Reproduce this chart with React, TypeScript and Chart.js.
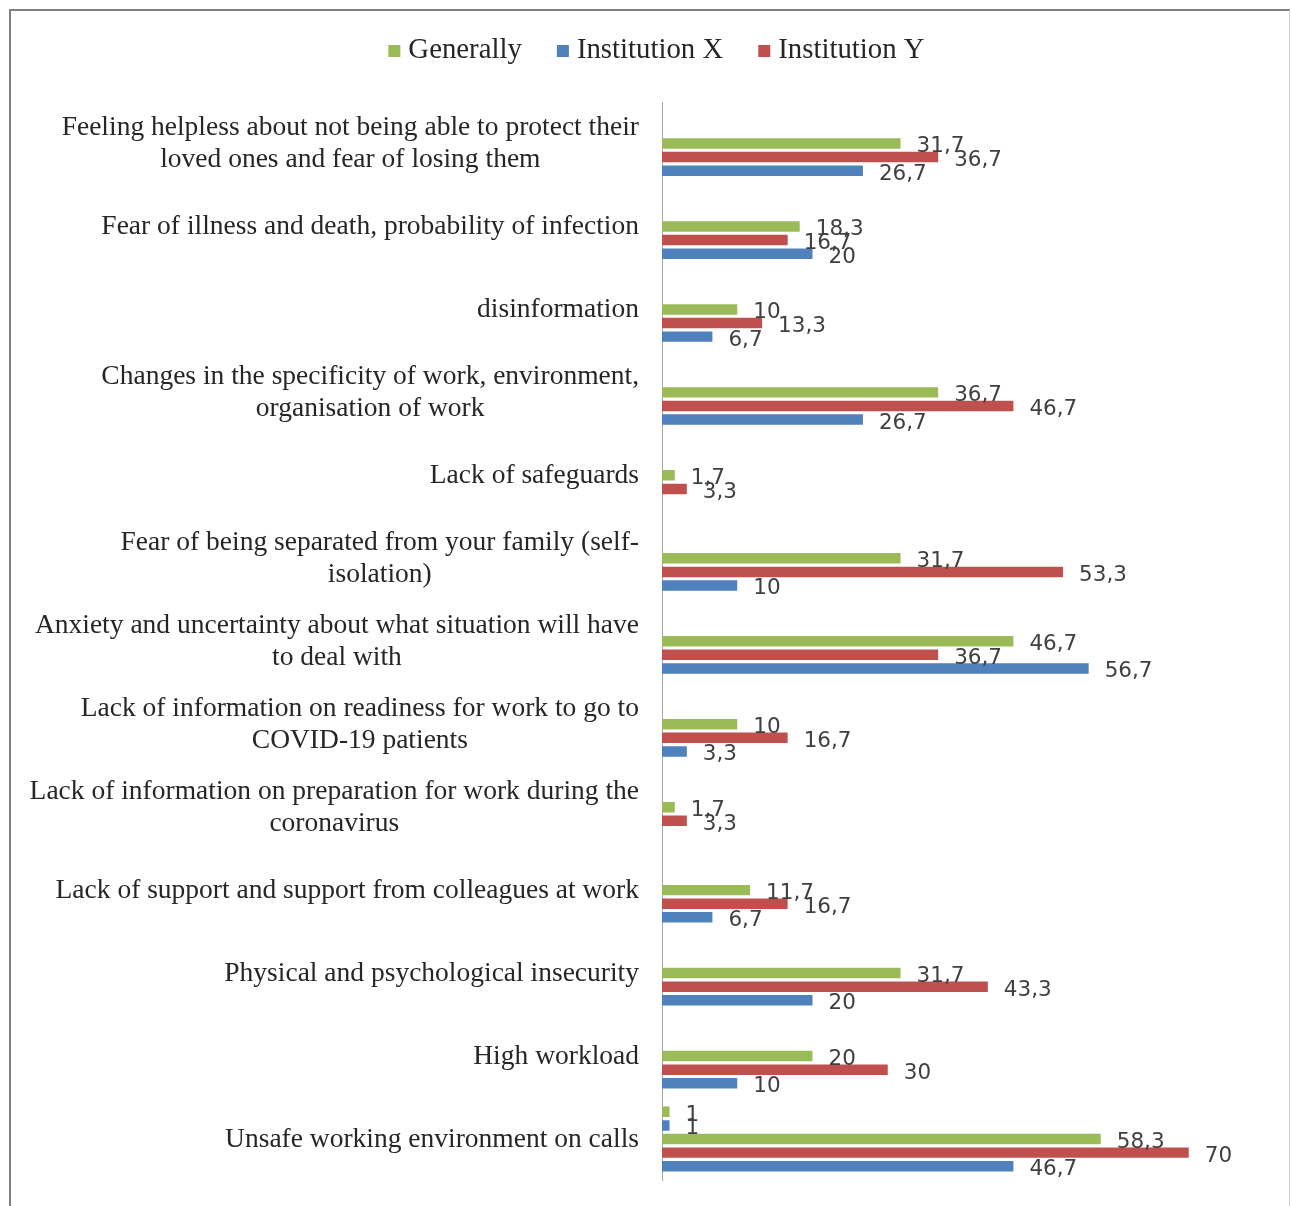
import React, { useEffect, useRef } from "react";
import { Chart, registerables } from "chart.js";

Chart.register(...registerables);

const categories: (string | string[])[] = [
  ["Feeling helpless about not being able to protect their", "loved ones and fear of losing them"],
  "Fear of illness and death, probability of infection",
  "disinformation",
  ["Changes in the specificity of work, environment,", "organisation of work"],
  "Lack of safeguards",
  ["Fear of being separated from your family (self-", "isolation)"],
  ["Anxiety and uncertainty about what situation will have", "to deal with"],
  ["Lack of information on readiness for work to go to", "COVID-19 patients"],
  ["Lack of information on preparation for work during the", "coronavirus"],
  "Lack of support and support from colleagues at work",
  "Physical and psychological insecurity",
  "High workload",
  "Unsafe working environment on calls",
];

const generally = [31.7, 18.3, 10, 36.7, 1.7, 31.7, 46.7, 10, 1.7, 11.7, 31.7, 20, 58.3];
const institutionY = [36.7, 16.7, 13.3, 46.7, 3.3, 53.3, 36.7, 16.7, 3.3, 16.7, 43.3, 30, 70];
const institutionX = [26.7, 20, 6.7, 26.7, 0, 10, 56.7, 3.3, 0, 6.7, 20, 10, 46.7];
// stray extra series that appear only in the last category of the original
const extraGenerally = [null, null, null, null, null, null, null, null, null, null, null, null, 1];
const extraInstitutionX = [null, null, null, null, null, null, null, null, null, null, null, null, 1];

const legendLabels = ["Generally", "Institution X", "Institution Y"];
const xMax = 80;

const GREEN = "#9BBB59";
const BLUE = "#4F81BD";
const RED = "#C0504D";
const legendColors = [GREEN, BLUE, RED];

const overlayPlugin = {
  id: "overlay",
  afterDatasetsDraw(chart: any) {
    const ctx = chart.ctx;
    ctx.save();
    ctx.font = '21.5px "DejaVu Sans"';
    ctx.fillStyle = "#404040";
    ctx.textAlign = "left";
    ctx.textBaseline = "alphabetic";
    chart.data.datasets.forEach((ds: any, di: number) => {
      const meta = chart.getDatasetMeta(di);
      meta.data.forEach((el: any, i: number) => {
        const v = ds.data[i];
        if (v === null || v === undefined || v === 0) return;
        ctx.fillText(String(v).replace(".", ","), el.x + 16, el.y + 9);
      });
    });
    ctx.restore();
  },
  afterDraw(chart: any) {
    const ctx = chart.ctx;
    const yScale = chart.scales.y;
    const area = chart.chartArea;
    ctx.save();
    // category labels
    ctx.font = '27.5px "Liberation Serif"';
    ctx.fillStyle = "#262626";
    ctx.textAlign = "center";
    ctx.textBaseline = "alphabetic";
    const right = area.left - 23;
    categories.forEach((lab, i) => {
      const lines = Array.isArray(lab) ? lab : [lab];
      const w = Math.max(...lines.map((l) => ctx.measureText(l).width));
      const cx = right - w / 2;
      const cy = yScale.getPixelForValue(i);
      lines.forEach((l, j) => {
        ctx.fillText(l, cx, cy + (j - (lines.length - 1) / 2) * 32 + 7.5);
      });
    });
    // legend
    ctx.font = '28.8px "Liberation Serif"';
    ctx.textAlign = "left";
    const box = 12;
    const gap = 8;
    const spacing = 35;
    const widths = legendLabels.map((l) => ctx.measureText(l).width);
    const total = widths.reduce((a, b) => a + b, 0) + legendLabels.length * (box + gap) + spacing * (legendLabels.length - 1);
    let x = 645.5 - total / 2;
    const baseline = 47;
    legendLabels.forEach((l, i) => {
      ctx.fillStyle = legendColors[i];
      ctx.fillRect(x, baseline - 13, box, box);
      ctx.fillStyle = "#262626";
      ctx.fillText(l, x + box + gap, baseline);
      x += box + gap + widths[i] + spacing;
    });
    ctx.restore();
  },
};

export default function App() {
  const ref = useRef<HTMLCanvasElement>(null);
  useEffect(() => {
    const barOpts = { categoryPercentage: 0.82, barPercentage: 0.77 };
    const chart = new Chart(ref.current as HTMLCanvasElement, {
      type: "bar",
      data: {
        labels: categories.map((c) => (Array.isArray(c) ? c.join(" ") : c)),
        datasets: [
          { label: "Generally (extra)", data: extraGenerally as any, backgroundColor: GREEN, ...barOpts },
          { label: "Institution X (extra)", data: extraInstitutionX as any, backgroundColor: BLUE, ...barOpts },
          { label: legendLabels[0], data: generally, backgroundColor: GREEN, ...barOpts },
          { label: legendLabels[2], data: institutionY, backgroundColor: RED, ...barOpts },
          { label: legendLabels[1], data: institutionX, backgroundColor: BLUE, ...barOpts },
        ],
      },
      options: {
        indexAxis: "y",
        responsive: false,
        animation: false,
        devicePixelRatio: 1,
        layout: { padding: { left: 643, right: 25, top: 91, bottom: 26.5 } },
        plugins: { legend: { display: false }, tooltip: { enabled: false } },
        scales: {
          x: { display: false, min: 0, max: xMax },
          y: {
            grid: { display: false },
            ticks: { display: false },
            border: { display: true, color: "#a6a6a6", width: 1 },
          },
        },
      } as any,
      plugins: [overlayPlugin],
    });
    return () => chart.destroy();
  }, []);
  return (
    <div
      style={{
        position: "absolute",
        left: 9,
        top: 9,
        width: 1278,
        height: 1196,
        borderTop: "2px solid #808080",
        borderLeft: "2px solid #808080",
        borderRight: "1px solid #d0d0d0",
        background: "#fff",
      }}
    >
      <canvas ref={ref} width={1278} height={1196} style={{ display: "block", width: 1278, height: 1196 }} />
    </div>
  );
}
